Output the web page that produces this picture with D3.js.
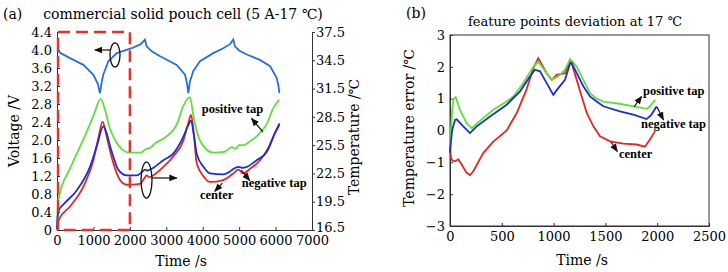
<!DOCTYPE html>
<html>
  <head>
    <meta charset="utf-8" />
    <title>Pouch cell temperature</title>
    <script src="https://d3js.org/d3.v7.min.js"></script>
    <style>
      body {
        margin: 0;
        background-color: #fff;
      }
      text {
        font-family: "DejaVu Serif", serif;
        fill: #000;
      }
      .tick text {
        font-size: 13px;
      }
      .tag {
        font-family: "Liberation Serif", serif;
        font-weight: bold;
        font-size: 12.5px;
      }
    </style>
  </head>
  <body>
    <svg id="chart"></svg>

    <script>

      // ---- panel (a) data ----
      var voltTime = [0, 100, 357, 723, 1000, 1120, 1180, 1230, 1270, 1410, 1640, 2050, 2300, 2415, 2460, 2600, 2830, 3285, 3515, 3570, 3605, 3650, 3740, 3925, 4290, 4565, 4750, 4840, 4885, 5000, 5210, 5570, 5850, 6030, 6080, 6105];
      var voltValue = [4.0, 3.93, 3.82, 3.67, 3.45, 3.25, 3.04, 3.3, 3.45, 3.75, 3.93, 4.04, 4.13, 4.23, 4.08, 3.97, 3.86, 3.67, 3.45, 3.25, 3.04, 3.3, 3.53, 3.75, 3.93, 4.04, 4.13, 4.23, 4.08, 3.99, 3.9, 3.78, 3.64, 3.38, 3.2, 3.04];

      var posTime = [0, 30, 60, 357, 723, 1000, 1200, 1300, 1450, 1600, 1800, 2000, 2300, 2450, 2550, 2700, 3000, 3300, 3450, 3650, 3750, 3850, 4000, 4300, 4600, 4800, 4900, 5000, 5100, 5300, 5550, 5750, 5950, 6100];
      var posTemp = [16.7, 19.5, 20.1, 23.0, 26.1, 28.6, 30.4, 29.5, 27.3, 26.0, 25.0, 24.7, 24.7, 25.1, 25.2, 25.7, 26.4, 27.8, 29.5, 30.6, 28.5, 26.8, 25.5, 24.7, 24.8, 25.3, 25.1, 25.5, 25.5, 25.9, 26.7, 27.7, 29.5, 30.3];

      var negTime = [0, 20, 50, 175, 540, 905, 1100, 1270, 1360, 1450, 1545, 1680, 1910, 2190, 2350, 2415, 2480, 2600, 2920, 3190, 3470, 3600, 3680, 3760, 3835, 4020, 4200, 4565, 4750, 4850, 4980, 5100, 5210, 5480, 5760, 5985, 6105];
      var negTemp = [16.6, 18.0, 18.6, 19.2, 20.7, 23.2, 25.5, 27.5, 26.8, 25.5, 24.3, 22.9, 22.3, 22.3, 22.7, 22.9, 22.8, 23.0, 23.9, 24.6, 26.4, 27.6, 28.1, 26.5, 24.6, 23.2, 22.5, 22.4, 22.7, 23.0, 23.2, 23.1, 23.2, 23.9, 24.8, 26.8, 27.8];

      var cenTime = [0, 20, 50, 357, 723, 1000, 1150, 1250, 1365, 1450, 1545, 1730, 1910, 2280, 2400, 2460, 2530, 2600, 2920, 3190, 3470, 3600, 3680, 3760, 3835, 4020, 4200, 4565, 4840, 4980, 5115, 5300, 5575, 5800, 5985, 6105];
      var cenTemp = [16.5, 17.0, 17.6, 19.0, 21.1, 23.9, 26.5, 28.0, 26.4, 25.0, 23.6, 21.8, 21.3, 21.4, 22.0, 22.3, 22.1, 22.2, 23.2, 24.3, 26.0, 27.8, 28.7, 26.5, 23.6, 22.2, 21.6, 21.8, 22.5, 22.9, 22.5, 23.0, 23.9, 25.2, 26.8, 27.6];

      var timeTicksA = [0, 1000, 2000, 3000, 4000, 5000, 6000, 7000];
      var voltTicks = [0, 0.4, 0.8, 1.2, 1.6, 2.0, 2.4, 2.8, 3.2, 3.6, 4.0, 4.4];
      var tempTicks = [16.5, 19.5, 22.5, 25.5, 28.5, 31.5, 34.5, 37.5];
      var windowTime = [0, 2000];

      // ---- panel (b) data ----
      var posErrTime = [0, 20, 35, 55, 97, 160, 210, 320, 418, 547, 611, 708, 804, 852, 933, 982, 1045, 1110, 1158, 1175, 1223, 1287, 1351, 1416, 1480, 1640, 1770, 1898, 1930, 1980];
      var posErr = [-0.5, 0.6, 1.0, 1.05, 0.65, 0.23, 0.07, 0.39, 0.65, 0.91, 1.07, 1.49, 2.0, 2.16, 1.8, 1.59, 1.7, 1.91, 2.22, 2.2, 2.0, 1.59, 1.17, 1.0, 0.91, 0.84, 0.76, 0.68, 0.76, 0.96];

      var negErrTime = [0, 20, 48, 65, 128, 193, 258, 386, 547, 676, 772, 820, 869, 933, 997, 1045, 1110, 1158, 1175, 1223, 1287, 1351, 1416, 1480, 1640, 1770, 1898, 1945, 1995];
      var negErr = [-0.7, 0.0, 0.33, 0.35, 0.13, -0.08, 0.13, 0.44, 0.81, 1.23, 1.7, 1.91, 1.86, 1.49, 1.12, 1.33, 1.59, 2.1, 2.12, 1.8, 1.39, 1.07, 0.91, 0.76, 0.6, 0.5, 0.36, 0.5, 0.76];

      var cenErrTime = [0, 10, 25, 48, 80, 113, 160, 193, 225, 322, 418, 547, 644, 740, 804, 852, 933, 982, 1030, 1110, 1158, 1175, 1223, 1271, 1320, 1384, 1448, 1545, 1673, 1802, 1882, 1930, 1980];
      var cenErr = [-0.5, -0.87, -0.95, -0.97, -0.9, -1.07, -1.33, -1.4, -1.28, -0.7, -0.35, 0.0, 0.55, 1.3, 1.95, 2.27, 1.8, 1.59, 1.75, 1.8, 2.22, 2.1, 1.59, 1.07, 0.55, 0.13, -0.18, -0.34, -0.41, -0.44, -0.51, -0.28, -0.02];

      var timeTicksB = [0, 500, 1000, 1500, 2000, 2500];
      var errTicks = [-3, -2, -1, 0, 1, 2, 3];

      var width = 728;
      var height = 272;

      var svg = d3.select("#chart")
        .attr("width", width)
        .attr("height", height);

      svg.append("rect")
        .attr("width", width)
        .attr("height", height)
        .attr("fill", "#fff");

      var defs = svg.append("defs");
      defs.append("marker")
        .attr("id", "head")
        .attr("viewBox", "0 0 10 10")
        .attr("refX", 9)
        .attr("refY", 5)
        .attr("markerWidth", 7)
        .attr("markerHeight", 7)
        .attr("orient", "auto")
        .append("path")
        .attr("d", "M0,1 L10,5 L0,9 Z")
        .attr("fill", "#111");

      function zip(xs, ys) {
        return xs.map(function(d, i) { return [d, ys[i]]; });
      }

      function styleAxis(g) {
        g.select(".domain").attr("stroke", "#333");
        g.selectAll(".tick line").attr("stroke", "#333");
        g.selectAll(".tick text").attr("fill", "#000");
      }

      // ================= panel (a) =================
      var xA = d3.scaleLinear().domain([0, 7000]).range([57, 312]);
      var yV = d3.scaleLinear().domain([0, 4.4]).range([230, 32]);
      var yT = d3.scaleLinear().domain([16.5, 37.5]).range([230, 32]);

      var gA = svg.append("g");

      gA.append("g")
        .attr("transform", "translate(0,230)")
        .call(d3.axisBottom(xA).tickValues(timeTicksA).tickSizeInner(-3).tickSizeOuter(0).tickPadding(6).tickFormat(d3.format("d")))
        .call(styleAxis);

      gA.append("g")
        .attr("transform", "translate(57,0)")
        .call(d3.axisLeft(yV).tickValues(voltTicks).tickSizeInner(-3).tickSizeOuter(0).tickPadding(5)
          .tickFormat(function(d) { return d === 0 ? "0" : d.toFixed(1); }))
        .call(styleAxis);

      gA.append("g")
        .attr("transform", "translate(312,0)")
        .call(d3.axisRight(yT).tickValues(tempTicks).tickSizeInner(3).tickSizeOuter(0).tickPadding(1).tickFormat(d3.format(".1f")))
        .call(styleAxis)
        .selectAll(".tick text")
        .attr("dy", function(d) { return d === 16.5 ? "0.1em" : "0.32em"; });

      var lineV = d3.line()
        .x(function(d) { return xA(d[0]); })
        .y(function(d) { return yV(d[1]); });

      var lineT = d3.line()
        .curve(d3.curveMonotoneX)
        .x(function(d) { return xA(d[0]); })
        .y(function(d) { return yT(d[1]); });

      gA.append("path")
        .datum(zip(voltTime, voltValue))
        .attr("d", lineV)
        .attr("fill", "none")
        .attr("stroke", "#2a6fd8")
        .attr("stroke-width", 1.8);

      var seriesA = [
        { t: posTime, v: posTemp, color: "#5ee03c" },
        { t: cenTime, v: cenTemp, color: "#e8261e" },
        { t: negTime, v: negTemp, color: "#1b2fd2" }
      ];

      gA.selectAll(".temp")
        .data(seriesA)
        .enter().append("path")
        .attr("class", "temp")
        .attr("d", function(s) { return lineT(zip(s.t, s.v)); })
        .attr("fill", "none")
        .attr("stroke", function(s) { return s.color; })
        .attr("stroke-width", 1.8);

      // red dashed window
      gA.append("rect")
        .attr("x", xA(windowTime[0]) + 1)
        .attr("y", yV(4.4))
        .attr("width", xA(windowTime[1]) - xA(windowTime[0]) - 1)
        .attr("height", yV(0) - yV(4.4))
        .attr("fill", "none")
        .attr("stroke", "#e8302a")
        .attr("stroke-width", 2.4)
        .attr("stroke-dasharray", "12,6");

      // ellipses + arrows
      gA.append("ellipse")
        .attr("cx", xA(1592)).attr("cy", yV(3.89))
        .attr("rx", 5).attr("ry", 12)
        .attr("fill", "none").attr("stroke", "#111").attr("stroke-width", 1.3);

      gA.append("ellipse")
        .attr("cx", xA(2457)).attr("cy", yV(1.11))
        .attr("rx", 5.5).attr("ry", 18)
        .attr("fill", "none").attr("stroke", "#111").attr("stroke-width", 1.3);

      var arrowsA = [
        [1455, 4.0, 1040, 4.0],
        [2608, 1.156, 3290, 1.156],
        [5655, 2.178, 5340, 2.48],
        [5060, 1.33, 5290, 1.1],
        [4540, 1.04, 4330, 0.86]
      ];

      gA.selectAll(".arrowA")
        .data(arrowsA)
        .enter().append("line")
        .attr("x1", function(d) { return xA(d[0]); })
        .attr("y1", function(d) { return yV(d[1]); })
        .attr("x2", function(d) { return xA(d[2]); })
        .attr("y2", function(d) { return yV(d[3]); })
        .attr("stroke", "#111")
        .attr("stroke-width", 1.2)
        .attr("marker-end", "url(#head)");

      var tagsA = [
        ["positive tap", 3972, 2.6],
        ["negative tap", 5070, 0.956],
        ["center", 3925, 0.689]
      ];

      gA.selectAll(".tagA")
        .data(tagsA)
        .enter().append("text")
        .attr("class", "tag")
        .attr("x", function(d) { return xA(d[1]); })
        .attr("y", function(d) { return yV(d[2]); })
        .text(function(d) { return d[0]; });

      svg.append("text")
        .attr("x", 3).attr("y", 19)
        .attr("font-size", 14)
        .text("(a)");

      svg.append("text")
        .attr("x", 183).attr("y", 19)
        .attr("text-anchor", "middle")
        .attr("font-size", 14)
        .text("commercial solid pouch cell (5 A-17 ℃)");

      svg.append("text")
        .attr("x", 181).attr("y", 266)
        .attr("text-anchor", "middle")
        .attr("font-size", 14)
        .text("Time /s");

      svg.append("text")
        .attr("transform", "translate(19,131) rotate(-90)")
        .attr("text-anchor", "middle")
        .attr("font-size", 14)
        .text("Voltage /V");

      svg.append("text")
        .attr("transform", "translate(359,137) rotate(-90)")
        .attr("text-anchor", "middle")
        .attr("font-size", 14)
        .text("Temperature /℃");

      // ================= panel (b) =================
      var xB = d3.scaleLinear().domain([0, 2500]).range([450, 709]);
      var yE = d3.scaleLinear().domain([-3, 3]).range([226, 35]);

      var gB = svg.append("g");

      gB.append("g")
        .attr("transform", "translate(0,226)")
        .call(d3.axisBottom(xB).tickValues(timeTicksB).tickSizeInner(-3).tickSizeOuter(0).tickPadding(6).tickFormat(d3.format("d")))
        .call(styleAxis);

      gB.append("g")
        .attr("transform", "translate(450,0)")
        .call(d3.axisLeft(yE).tickValues(errTicks).tickSizeInner(-3).tickSizeOuter(0).tickPadding(5).tickFormat(d3.format("d")))
        .call(styleAxis);

      gB.append("rect")
        .attr("x", 450).attr("y", 35)
        .attr("width", 259).attr("height", 191)
        .attr("fill", "none")
        .attr("stroke", "#333");

      var lineE = d3.line()
        .x(function(d) { return xB(d[0]); })
        .y(function(d) { return yE(d[1]); });

      var seriesB = [
        { t: cenErrTime, v: cenErr, color: "#e8261e" },
        { t: posErrTime, v: posErr, color: "#5ee03c" },
        { t: negErrTime, v: negErr, color: "#1b2fd2" }
      ];

      gB.selectAll(".err")
        .data(seriesB)
        .enter().append("path")
        .attr("class", "err")
        .attr("d", function(s) { return lineE(zip(s.t, s.v)); })
        .attr("fill", "none")
        .attr("stroke", function(s) { return s.color; })
        .attr("stroke-width", 1.8);

      var arrowsB = [
        [1776, 0.738, 1850, 1.07],
        [1998, 0.738, 2060, 0.34],
        [1554, -0.36, 1615, -0.66]
      ];

      gB.selectAll(".arrowB")
        .data(arrowsB)
        .enter().append("line")
        .attr("x1", function(d) { return xB(d[0]); })
        .attr("y1", function(d) { return yE(d[1]); })
        .attr("x2", function(d) { return xB(d[2]); })
        .attr("y2", function(d) { return yE(d[3]); })
        .attr("stroke", "#111")
        .attr("stroke-width", 1.2)
        .attr("marker-end", "url(#head)");

      var tagsB = [
        ["positive tap", 1863, 1.115],
        ["negative tap", 1844, 0.079],
        ["center", 1631, -0.864]
      ];

      gB.selectAll(".tagB")
        .data(tagsB)
        .enter().append("text")
        .attr("class", "tag")
        .attr("x", function(d) { return xB(d[1]); })
        .attr("y", function(d) { return yE(d[2]); })
        .text(function(d) { return d[0]; });

      svg.append("text")
        .attr("x", 406).attr("y", 18)
        .attr("font-size", 14)
        .text("(b)");

      svg.append("text")
        .attr("x", 575).attr("y", 26)
        .attr("text-anchor", "middle")
        .attr("font-size", 13)
        .text("feature points deviation at 17 ℃");

      svg.append("text")
        .attr("x", 582).attr("y", 265)
        .attr("text-anchor", "middle")
        .attr("font-size", 14)
        .text("Time /s");

      svg.append("text")
        .attr("transform", "translate(414,128) rotate(-90)")
        .attr("text-anchor", "middle")
        .attr("font-size", 14)
        .text("Temperature error /℃");

    </script>
  </body>
</html>
